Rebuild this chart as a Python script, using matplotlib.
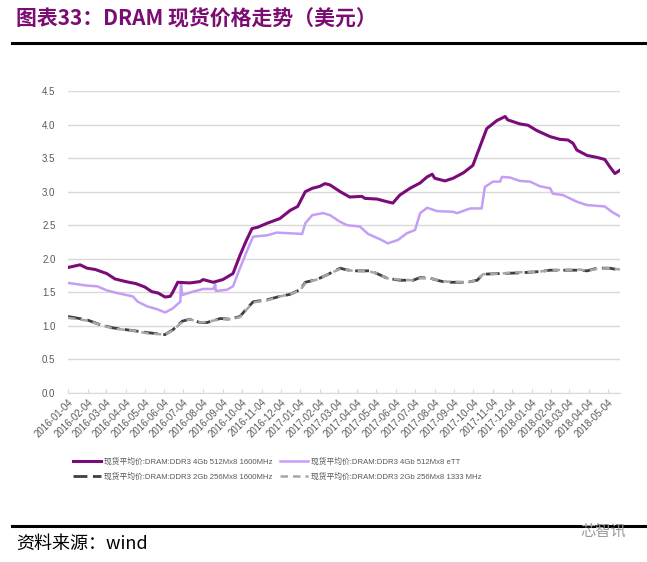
import matplotlib
matplotlib.use("Agg")
import matplotlib.pyplot as plt
import pandas as pd

plt.rcParams['font.family'] = ['Liberation Sans', 'Noto Sans CJK SC', 'DejaVu Sans']

# ---------------- data ----------------
s1_dates = ["2016-01-04","2016-01-23","2016-02-03","2016-02-16","2016-03-05","2016-03-18","2016-04-04",
            "2016-04-20","2016-05-04","2016-05-15","2016-05-25","2016-06-05","2016-06-13","2016-06-17",
            "2016-06-25","2016-07-14","2016-07-30","2016-08-04","2016-08-20","2016-09-04","2016-09-20",
            "2016-10-01","2016-10-10","2016-10-20","2016-10-29","2016-11-13","2016-12-03","2016-12-19",
            "2016-12-31","2017-01-12","2017-01-23","2017-02-04","2017-02-12","2017-02-20","2017-03-08",
            "2017-03-23","2017-04-11","2017-04-16","2017-05-05","2017-05-21","2017-05-30","2017-06-10",
            "2017-06-26","2017-07-12","2017-07-23","2017-07-31","2017-08-04","2017-08-20","2017-09-02",
            "2017-09-18","2017-10-03","2017-10-11","2017-10-25","2017-11-10","2017-11-23","2017-11-27",
            "2017-12-16","2017-12-29","2018-01-12","2018-02-02","2018-02-17","2018-03-02","2018-03-10",
            "2018-03-16","2018-04-01","2018-04-17","2018-04-29","2018-05-07","2018-05-15","2018-05-23"]
s1_vals = [1.87,1.91,1.86,1.84,1.78,1.70,1.66,
           1.63,1.58,1.51,1.49,1.43,1.44,1.50,
           1.65,1.64,1.66,1.69,1.65,1.69,1.78,
           2.05,2.25,2.45,2.47,2.53,2.60,2.72,
           2.78,3.00,3.05,3.08,3.12,3.10,3.00,
           2.92,2.93,2.90,2.89,2.85,2.83,2.95,
           3.05,3.13,3.22,3.26,3.20,3.16,3.20,
           3.28,3.39,3.59,3.94,4.06,4.12,4.07,
           4.01,3.99,3.91,3.82,3.78,3.77,3.72,
           3.62,3.54,3.51,3.48,3.37,3.27,3.32]

s2_dates = ["2016-01-04","2016-02-03","2016-02-19","2016-03-05","2016-03-21","2016-04-15","2016-04-23",
            "2016-05-08","2016-05-23","2016-06-05","2016-06-17","2016-06-29","2016-06-30","2016-07-02",
            "2016-07-19","2016-08-04","2016-08-20","2016-08-23","2016-08-24","2016-09-11","2016-09-20",
            "2016-10-01","2016-10-17","2016-10-22","2016-11-13","2016-11-28","2016-12-19","2017-01-07",
            "2017-01-12","2017-01-23","2017-02-09","2017-02-20","2017-03-08","2017-03-19","2017-04-08",
            "2017-04-21","2017-05-10","2017-05-22","2017-06-07","2017-06-21","2017-07-04","2017-07-12",
            "2017-07-23","2017-08-08","2017-09-02","2017-09-08","2017-09-29","2017-10-17","2017-10-22",
            "2017-11-04","2017-11-15","2017-11-18","2017-12-01","2017-12-16","2018-01-01","2018-01-17",
            "2018-02-02","2018-02-06","2018-02-22","2018-03-16","2018-04-01","2018-04-29","2018-05-10",
            "2018-05-23"]
s2_vals = [1.64,1.60,1.59,1.53,1.49,1.44,1.36,
           1.29,1.25,1.20,1.26,1.36,1.65,1.46,
           1.51,1.55,1.55,1.62,1.52,1.54,1.59,
           1.86,2.23,2.33,2.35,2.39,2.38,2.37,
           2.53,2.65,2.68,2.65,2.55,2.50,2.48,
           2.37,2.29,2.23,2.28,2.38,2.43,2.68,
           2.76,2.71,2.70,2.68,2.75,2.75,3.07,
           3.15,3.15,3.22,3.21,3.16,3.15,3.08,
           3.05,2.97,2.95,2.85,2.80,2.78,2.70,
           2.63]

s3_dates = ["2016-01-04","2016-02-03","2016-02-23","2016-03-15","2016-04-15","2016-05-08","2016-06-05",
            "2016-06-17","2016-07-02","2016-07-14","2016-07-30","2016-08-10","2016-08-31","2016-09-15",
            "2016-10-01","2016-10-12","2016-10-22","2016-11-13","2016-12-03","2016-12-19","2017-01-04",
            "2017-01-12","2017-01-30","2017-02-15","2017-03-08","2017-03-16","2017-03-28","2017-04-24",
            "2017-05-05","2017-05-21","2017-06-10","2017-07-01","2017-07-12","2017-07-28","2017-08-12",
            "2017-08-23","2017-09-24","2017-10-10","2017-10-19","2017-11-15","2017-12-16","2018-01-17",
            "2018-02-02","2018-03-21","2018-04-01","2018-04-17","2018-05-07","2018-05-23"]
s3_vals = [1.14,1.09,1.02,0.97,0.93,0.90,0.87,
           0.94,1.07,1.10,1.05,1.05,1.11,1.10,
           1.14,1.26,1.36,1.39,1.44,1.47,1.54,
           1.65,1.69,1.76,1.86,1.84,1.82,1.82,
           1.78,1.71,1.68,1.68,1.72,1.71,1.67,
           1.65,1.65,1.68,1.77,1.78,1.79,1.81,
           1.83,1.83,1.82,1.86,1.86,1.83]
s4_vals = [1.12,1.08,1.02,0.96,0.93,0.89,0.87,
           0.93,1.06,1.10,1.05,1.06,1.10,1.10,
           1.13,1.25,1.35,1.38,1.44,1.47,1.53,
           1.64,1.69,1.76,1.85,1.84,1.82,1.81,
           1.78,1.71,1.69,1.68,1.71,1.71,1.67,
           1.66,1.65,1.68,1.77,1.78,1.80,1.81,
           1.83,1.84,1.82,1.85,1.86,1.84]

tick_dates = pd.date_range("2016-01-01", "2018-05-01", freq="MS") + pd.Timedelta(days=3)
tick_labels = [d.strftime("%Y-%m-%d") for d in tick_dates]

labels = ["现货平均价:DRAM:DDR3 4Gb 512Mx8 1600MHz",
          "现货平均价:DRAM:DDR3 4Gb 512Mx8 eTT",
          "现货平均价:DRAM:DDR3 2Gb 256Mx8 1600MHz",
          "现货平均价:DRAM:DDR3 2Gb 256Mx8 1333 MHz"]

# ---------------- figure ----------------
fig = plt.figure(figsize=(6.47, 5.62), dpi=100)
W, H = 647, 562

title_color = "#7A0C72"
fig.text(16/W, 1 - 19/H, "图表33：DRAM 现货价格走势（美元）", color=title_color,
         fontsize=15, fontweight="bold", va="center", ha="left",
         family=['Noto Sans CJK SC', 'DejaVu Sans'])
fig.add_artist(plt.Line2D([12/W, 1], [1 - 43/H, 1 - 43/H], color="black", lw=2.2))
fig.add_artist(plt.Line2D([12/W, 1], [1 - 526/H, 1 - 526/H], color="black", lw=2.2))
fig.text(16/W, 1 - 544/H, "资料来源：wind", color="black", fontsize=13, va="center", ha="left",
         family=['Noto Sans CJK SC', 'DejaVu Sans'])
fig.text(580/W, 1 - 531/H, "芯智讯", color="#9a9a9a", fontsize=11, va="center", ha="left",
         family=['Noto Sans CJK SC'])

ax = fig.add_axes([68/W, 1 - 393/H, (620 - 68)/W, (393 - 91)/H])

ax.plot(pd.to_datetime(s3_dates), s3_vals, color="#3f3f3f", lw=2.0, ls=(0, (5, 2)), label=labels[2], zorder=3)
ax.plot(pd.to_datetime(s3_dates), s4_vals, color="#a6a6a6", lw=1.8, ls=(0, (3, 2)), label=labels[3], zorder=3)
ax.plot(pd.to_datetime(s2_dates), s2_vals, color="#c49ef5", lw=1.8, label=labels[1], zorder=4)
ax.plot(pd.to_datetime(s1_dates), s1_vals, color="#7a0c7a", lw=2.2, label=labels[0], zorder=5)

ax.set_ylim(0, 4.5)
ax.set_yticks([0, 0.5, 1.0, 1.5, 2.0, 2.5, 3.0, 3.5, 4.0, 4.5])
ax.set_yticklabels([f"{v:.1f}" for v in ax.get_yticks()])
ax.set_xlim(pd.Timestamp("2016-01-04"), pd.Timestamp("2018-05-23"))
ax.set_xticks(tick_dates)
ax.set_xticklabels(tick_labels, rotation=45, ha="right", rotation_mode="anchor")

ax.grid(axis="y", color="#d9d9d9", lw=1)
ax.set_axisbelow(True)
for sp in ["top", "right", "left"]:
    ax.spines[sp].set_visible(False)
ax.spines["bottom"].set_color("#d9d9d9")
ax.tick_params(axis="y", length=0, labelsize=7, labelcolor="#595959", pad=9)
ax.tick_params(axis="x", length=3, color="#d9d9d9", direction="in", labelsize=7,
               labelcolor="#595959", pad=3)

handles, labs = ax.get_legend_handles_labels()
order = [3, 0, 2, 1]
leg = fig.legend([handles[i] for i in order], [labs[i] for i in order],
                 loc="center left", bbox_to_anchor=(66/W, 1 - 469/H), ncol=2,
                 frameon=False, fontsize=5.6, labelcolor="#595959",
                 handlelength=3.6, handletextpad=0.4, columnspacing=0.9, labelspacing=0.85)

fig.savefig("out.png", dpi=100)
